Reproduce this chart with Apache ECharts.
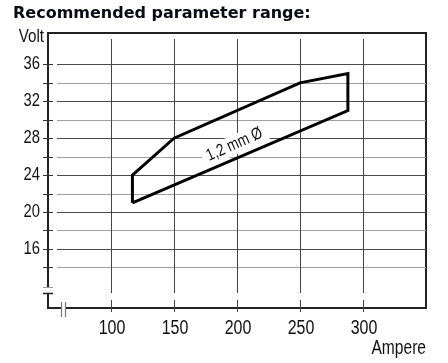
<!DOCTYPE html>
<html>
<head>
<meta charset="utf-8">
<script src="https://cdn.jsdelivr.net/npm/echarts@6/dist/echarts.min.js"></script>
<style>
html,body{margin:0;padding:0;background:#fff;}
#chart{width:448px;height:363px;}
</style>
</head>
<body>
<div id="chart"></div>
<script>
// ---- data ----
const ampere = [117, 117, 150, 250, 288, 288, 117];
const volt   = [21, 24, 28, 34, 35, 31, 21];
const xTicks = [100, 150, 200, 250, 300];
const yTicks = [16, 20, 24, 28, 32, 36];
const yGridLines = [14, 16, 18, 20, 22, 24, 26, 28, 30, 32, 34, 36];
const xRange = [50, 350];
const yRange = [9.6, 39.4];
const wireLabel = ['1,2 mm Ø'];
const wireLabelPos = [198, 27.3];

const FONT = '"Liberation Sans", Arial, sans-serif';
const NARROW_SCALE = 0.8;

const chart = echarts.init(document.getElementById('chart'), null, {renderer: 'canvas'});

function crisp(v) { return Math.round(v) + 0.5; }

const option = {
  animation: false,
  backgroundColor: '#fff',
  grid: {
    left: 48, right: 22, top: 33, bottom: 55,
    show: true, borderColor: '#222', borderWidth: 2, backgroundColor: 'transparent'
  },
  xAxis: {
    type: 'value', min: xRange[0], max: xRange[1], interval: 50,
    axisLine: {show: false}, axisTick: {show: false}, splitLine: {show: false},
    axisLabel: {show: false}
  },
  yAxis: {
    type: 'value', min: yRange[0], max: yRange[1],
    axisLine: {show: false}, axisTick: {show: false}, splitLine: {show: false},
    axisLabel: {show: false}
  },
  graphic: [
    {type: 'text', left: 13, top: 6, style: {text: 'Recommended parameter range:', font: 'bold 16px "DejaVu Sans", sans-serif', fill: '#0a0a14'}},
    {type: 'text', x: 44, y: 37, scaleX: 0.82, style: {text: 'Volt', font: '18.5px ' + FONT, fill: '#111', align: 'right', verticalAlign: 'middle'}},
    {type: 'text', x: 426, y: 349, scaleX: NARROW_SCALE, style: {text: 'Ampere', font: '19.5px ' + FONT, fill: '#111', align: 'right', verticalAlign: 'middle'}},
    // y-axis break
    {type: 'rect', shape: {x: 44, y: 288, width: 8, height: 5}, style: {fill: '#fff'}, z: 50},
    {type: 'line', shape: {x1: 43, y1: 287.5, x2: 53, y2: 287.5}, style: {stroke: '#999', lineWidth: 1}, z: 51},
    {type: 'line', shape: {x1: 43, y1: 293.5, x2: 53, y2: 293.5}, style: {stroke: '#222', lineWidth: 1.5}, z: 51},
    // x-axis break
    {type: 'rect', shape: {x: 62, y: 304, width: 4, height: 8}, style: {fill: '#fff'}, z: 50},
    {type: 'line', shape: {x1: 61.5, y1: 302, x2: 61.5, y2: 317}, style: {stroke: '#777', lineWidth: 1.2}, z: 51},
    {type: 'line', shape: {x1: 65.5, y1: 302, x2: 65.5, y2: 317}, style: {stroke: '#777', lineWidth: 1.2}, z: 51}
  ],
  series: [
    // horizontal grid lines + left ticks
    {
      type: 'custom', z: 1, silent: true,
      data: yGridLines.map(v => [xRange[0], v]),
      renderItem: function (params, api) {
        const v = api.value(1);
        const l = api.coord([xRange[0], v]);
        const r = api.coord([xRange[1], v]);
        const y = crisp(l[1]);
        const major = yTicks.indexOf(v) >= 0;
        return {type: 'group', children: [
          {type: 'line', shape: {x1: l[0] + 9, y1: y, x2: r[0], y2: y}, style: {stroke: major ? '#4a4a4a' : '#a0a0a0', lineWidth: 1}},
          {type: 'line', shape: {x1: l[0] - 5, y1: y, x2: l[0] + 5, y2: y}, style: {stroke: '#333', lineWidth: 1}}
        ]};
      }
    },
    // vertical grid lines + bottom ticks
    {
      type: 'custom', z: 1, silent: true,
      data: xTicks.map(v => [v, yRange[1]]),
      renderItem: function (params, api) {
        const v = api.value(0);
        const t = api.coord([v, yRange[1]]);
        const b = api.coord([v, yRange[0]]);
        const x = crisp(t[0]);
        return {type: 'group', children: [
          {type: 'line', shape: {x1: x, y1: t[1] + 6, x2: x, y2: b[1] - 15}, style: {stroke: '#444', lineWidth: 1}},
          {type: 'line', shape: {x1: x, y1: b[1] - 8, x2: x, y2: b[1] + 4}, style: {stroke: '#444', lineWidth: 1}}
        ]};
      }
    },
    // y tick labels
    {
      type: 'custom', z: 3, silent: true,
      data: yTicks.map(v => [xRange[0], v]),
      renderItem: function (params, api) {
        const v = api.value(1);
        const p = api.coord([xRange[0], v]);
        return {type: 'text', x: p[0] - 8, y: p[1] - 0.5, scaleX: NARROW_SCALE,
          style: {text: String(v), font: '18.5px ' + FONT, fill: '#111', align: 'right', verticalAlign: 'middle'}};
      }
    },
    // x tick labels
    {
      type: 'custom', z: 3, silent: true,
      data: xTicks.map(v => [v, yRange[0]]),
      renderItem: function (params, api) {
        const v = api.value(0);
        const p = api.coord([v, yRange[0]]);
        return {type: 'text', x: p[0] + 1, y: p[1] + 20, scaleX: NARROW_SCALE,
          style: {text: String(v), font: '20px ' + FONT, fill: '#111', align: 'center', verticalAlign: 'middle'}};
      }
    },
    // parameter range polygon
    {
      type: 'line', z: 5, silent: true,
      data: ampere.map((a, i) => [a, volt[i]]),
      symbol: 'none',
      lineStyle: {color: '#000', width: 3, join: 'miter'}
    },
    // wire diameter label
    {
      type: 'custom', z: 6, silent: true,
      data: [wireLabelPos],
      renderItem: function (params, api) {
        const p = api.coord([api.value(0), api.value(1)]);
        return {type: 'text', x: p[0], y: p[1], rotation: 24 * Math.PI / 180, scaleX: NARROW_SCALE,
          style: {text: wireLabel[0], font: '17px ' + FONT, fill: '#111', align: 'center', verticalAlign: 'middle',
            backgroundColor: '#fff', padding: [1, 6]}};
      }
    }
  ]
};
chart.setOption(option);
</script>
</body>
</html>
